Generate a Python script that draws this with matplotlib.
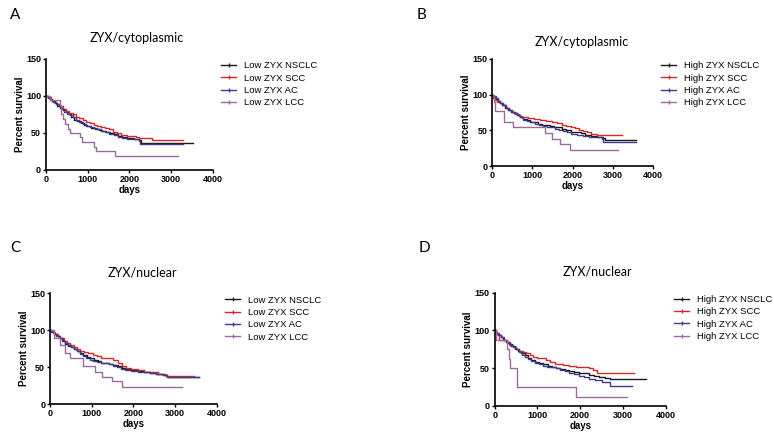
from matplotlib import pyplot as plt
from matplotlib.lines import Line2D

# colours of the four subtypes
colors = ['#1a1a1a', '#d42a2a', '#3b3b8f', '#9c6b9c']
subtypes = ['NSCLC', 'SCC', 'AC', 'LCC']

# panel A: low ZYX, cytoplasmic
a_nsclc_t = [0, 40, 90, 150, 210, 270, 330, 400, 470, 540, 610, 680, 750, 830, 910, 990, 1080, 1170, 1260, 1350, 1440, 1530, 1620, 1720, 1820, 1950, 2100, 2230, 2280, 3520]
a_nsclc_s = [100, 98, 96, 93, 90, 87, 84, 81, 78, 75, 71, 68, 66, 63, 61, 59, 57, 56, 54, 53, 51, 50, 48, 46, 44, 43, 42, 40, 37, 37]
a_scc_t = [0, 50, 110, 180, 250, 320, 400, 480, 560, 640, 720, 800, 880, 960, 1050, 1140, 1230, 1320, 1410, 1500, 1600, 1700, 1800, 1950, 2150, 2230, 2550, 3280]
a_scc_s = [100, 98, 95, 92, 89, 86, 83, 80, 77, 75, 72, 70, 67, 65, 63, 61, 60, 58, 57, 55, 52, 50, 47, 46, 45, 43, 40, 40]
a_ac_t = [0, 40, 100, 160, 230, 300, 370, 440, 510, 580, 650, 720, 800, 880, 960, 1050, 1140, 1230, 1320, 1420, 1520, 1620, 1720, 1820, 1950, 2100, 2220, 2260, 3280]
a_ac_s = [100, 97, 95, 92, 89, 86, 82, 79, 76, 74, 71, 68, 65, 62, 60, 58, 57, 55, 53, 51, 49, 47, 45, 43, 42, 42, 39, 35, 35]
a_lcc_t = [0, 100, 330, 360, 400, 450, 530, 580, 820, 870, 1160, 1200, 1650, 3150]
a_lcc_s = [100, 94, 87.5, 75, 69, 62.5, 56, 50, 44, 37.5, 31, 25, 19, 19]

# panel B: high ZYX, cytoplasmic
b_nsclc_t = [0, 30, 80, 140, 200, 260, 330, 400, 470, 540, 610, 690, 770, 860, 950, 1040, 1140, 1240, 1340, 1440, 1540, 1640, 1740, 1850, 1960, 2080, 2200, 2320, 2450, 2600, 2750, 2800, 3580]
b_nsclc_s = [100, 97, 94, 91, 88, 85, 82, 79, 76, 74, 72, 69, 66, 64, 62, 61, 59, 58, 57, 56, 55, 54, 52, 50, 48, 47, 46, 44, 42, 40, 39, 37, 37]
b_scc_t = [0, 20, 70, 130, 200, 270, 340, 420, 500, 580, 660, 740, 900, 1050, 1200, 1350, 1500, 1620, 1750, 1850, 1950, 2050, 2150, 2250, 2350, 2450, 2600, 3240]
b_scc_s = [100, 96, 93, 90, 88, 85, 82, 79, 76, 73, 70, 68, 67, 66, 64, 63, 61, 60, 58, 56, 54, 53, 51, 49, 47, 45, 43, 43]
b_ac_t = [0, 40, 90, 150, 210, 280, 350, 420, 490, 560, 630, 700, 780, 870, 960, 1060, 1160, 1260, 1360, 1460, 1560, 1660, 1760, 1860, 1960, 2100, 2250, 2400, 2550, 2720, 2760, 3580]
b_ac_s = [100, 98, 95, 91, 88, 85, 82, 79, 76, 74, 71, 68, 65, 63, 61, 59, 57, 56, 55, 54, 52, 51, 49, 47, 45, 43, 42, 41, 40, 38, 34, 34]
b_lcc_t = [0, 40, 80, 300, 520, 1325, 1490, 1700, 1930, 3120]
b_lcc_s = [100, 90, 77, 62, 54, 46, 38, 31, 23, 23]

# panel C: low ZYX, nuclear
c_nsclc_t = [0, 40, 100, 160, 230, 300, 370, 440, 510, 580, 650, 720, 800, 880, 960, 1050, 1140, 1230, 1320, 1420, 1520, 1620, 1720, 1820, 1950, 2100, 2250, 2400, 2550, 2700, 2800, 3580]
c_nsclc_s = [100, 98, 95, 92, 89, 86, 82, 79, 77, 75, 72, 69, 66, 64, 62, 60, 58, 56, 55, 54, 53, 51, 49, 47, 46, 45, 43, 42, 40, 39, 37, 37]
c_scc_t = [0, 50, 110, 180, 250, 330, 410, 490, 570, 650, 730, 820, 920, 1020, 1120, 1220, 1350, 1500, 1620, 1720, 1820, 1950, 2100, 2250, 2400, 2600, 2780, 3450]
c_scc_s = [100, 98, 95, 92, 89, 86, 83, 80, 77, 74, 72, 70, 69, 67, 65, 63, 62, 59, 56, 52, 49, 47, 46, 44, 43, 41, 38, 38]
c_ac_t = [0, 30, 90, 150, 220, 290, 360, 430, 500, 570, 640, 710, 790, 870, 950, 1040, 1130, 1220, 1310, 1410, 1510, 1610, 1710, 1810, 1950, 2100, 2250, 2400, 2550, 2700, 2800, 3580]
c_ac_s = [100, 98, 95, 92, 89, 86, 83, 80, 77, 75, 72, 68, 65, 62, 60, 58, 57, 56, 55, 54, 52, 50, 48, 46, 45, 44, 43, 42, 41, 39, 37, 37]
c_lcc_t = [0, 90, 240, 360, 480, 800, 1080, 1240, 1480, 1720, 3160]
c_lcc_s = [100, 89, 80, 69, 62, 52, 44, 37, 31, 23.5, 23.5]

# panel D: high ZYX, nuclear
d_nsclc_t = [0, 30, 80, 140, 200, 270, 340, 410, 480, 550, 620, 700, 780, 860, 950, 1040, 1140, 1240, 1340, 1440, 1540, 1640, 1750, 1860, 1970, 2080, 2200, 2320, 2450, 2580, 2700, 3530]
d_nsclc_s = [100, 97, 94, 91, 88, 85, 82, 79, 76, 73, 70, 67, 64, 61, 58, 57, 55, 53, 52, 50, 49, 48, 46, 45, 44, 43, 41, 40, 39, 37, 36, 36]
d_scc_t = [0, 30, 100, 300, 360, 430, 500, 580, 660, 740, 820, 900, 1000, 1100, 1200, 1300, 1400, 1500, 1600, 1750, 1900, 2050, 2200, 2300, 2400, 3270]
d_scc_s = [100, 95, 88, 85, 80, 78, 76, 73, 71, 70, 67, 65, 64, 63, 61, 58, 56, 55, 54, 53, 52, 51, 50, 48, 44, 44]
d_ac_t = [0, 40, 90, 150, 210, 280, 350, 420, 490, 560, 630, 700, 780, 860, 940, 1030, 1130, 1230, 1330, 1430, 1530, 1640, 1750, 1860, 1970, 2080, 2200, 2350, 2500, 2700, 3220]
d_ac_s = [100, 97, 94, 91, 88, 84, 81, 78, 75, 72, 68, 65, 62, 59, 57, 55, 53, 52, 51, 50, 48, 46, 44, 42, 40, 38, 36, 34, 32, 27, 27]
d_lcc_t = [0, 30, 300, 330, 350, 530, 1900, 3100]
d_lcc_s = [100, 88, 75, 62.5, 50, 25, 12.5, 12.5]

panels = [
    ('A', 'ZYX/cytoplasmic', 'Low', [(a_nsclc_t, a_nsclc_s), (a_scc_t, a_scc_s), (a_ac_t, a_ac_s), (a_lcc_t, a_lcc_s)],
     [0.0594, 0.6119, 0.2158, 0.2534], (0.020, 0.965), (0.177, 0.913)),
    ('B', 'ZYX/cytoplasmic', 'High', [(b_nsclc_t, b_nsclc_s), (b_scc_t, b_scc_s), (b_ac_t, b_ac_s), (b_lcc_t, b_lcc_s)],
     [0.6357, 0.6210, 0.2080, 0.2443], (0.545, 0.965), (0.752, 0.905)),
    ('C', 'ZYX/nuclear', 'Low', [(c_nsclc_t, c_nsclc_s), (c_scc_t, c_scc_s), (c_ac_t, c_ac_s), (c_lcc_t, c_lcc_s)],
     [0.0646, 0.0776, 0.2154, 0.2527], (0.020, 0.433), (0.184, 0.377)),
    ('D', 'ZYX/nuclear', 'High', [(d_nsclc_t, d_nsclc_s), (d_scc_t, d_scc_s), (d_ac_t, d_ac_s), (d_lcc_t, d_lcc_s)],
     [0.6391, 0.0731, 0.2209, 0.2587], (0.548, 0.433), (0.772, 0.380)),
]

fig = plt.figure(figsize=(7.74, 4.38), dpi=100)

for letter, title, level, curves, pos, letter_xy, title_xy in panels:
    ax = fig.add_axes(pos)
    for (t, s), c in zip(curves, colors):
        ax.step(t, s, where='post', color=c, lw=1.0)
    ax.set_xlim(0, 4000)
    ax.set_ylim(0, 150)
    ax.set_xticks([0, 1000, 2000, 3000, 4000])
    ax.set_yticks([0, 50, 100, 150])
    ax.spines['top'].set_visible(False)
    ax.spines['right'].set_visible(False)
    for sp in ('left', 'bottom'):
        ax.spines[sp].set_linewidth(1.2)
    ax.tick_params(direction='out', length=2.5, width=1.0, labelsize=6.5, pad=1)
    for lab in ax.get_xticklabels() + ax.get_yticklabels():
        lab.set_fontweight('bold')
        lab.set_family('Liberation Sans')
    ax.set_xlabel('days', fontsize=7, fontweight='bold', family='Liberation Sans', labelpad=1)
    ax.set_ylabel('Percent survival', fontsize=7, fontweight='bold', family='Liberation Sans', labelpad=1)

    handles = [Line2D([], [], color=c, lw=1.0, marker='|', markersize=3) for c in colors]
    labels = [f'{level} ZYX {st}' for st in subtypes]
    ax.legend(handles, labels, loc='upper left', bbox_to_anchor=(1.05, 0.98), frameon=False,
              prop={'family': 'Liberation Sans', 'size': 6.8}, handlelength=1.6,
              handletextpad=0.8, labelspacing=0.36, borderaxespad=0, borderpad=0)

    fig.text(*title_xy, title, ha='center', va='center', fontsize=9, family='Lato')
    fig.text(*letter_xy, letter, ha='center', va='center', fontsize=11, family='Lato')

fig.savefig('out.png', dpi=100)
